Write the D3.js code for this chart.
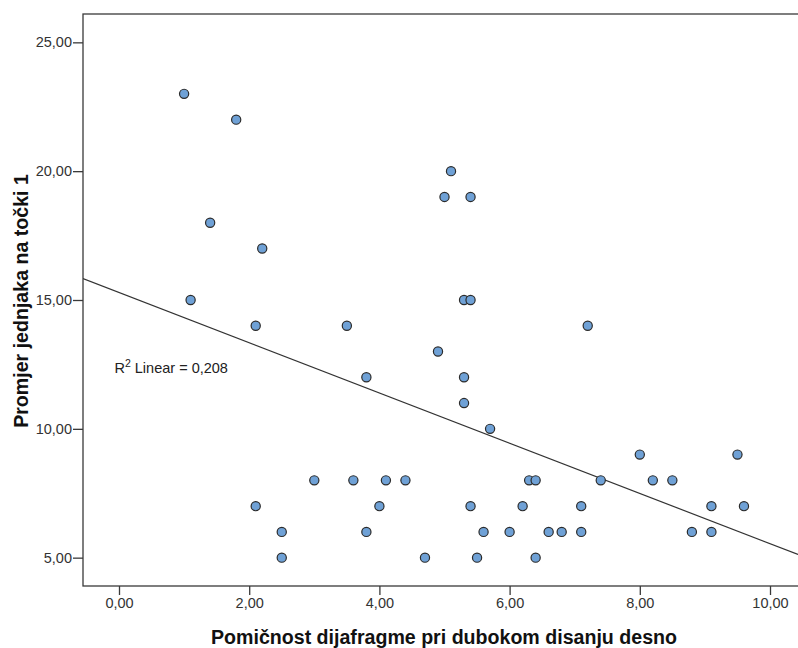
<!DOCTYPE html>
<html>
<head>
<meta charset="utf-8">
<script src="https://cdn.jsdelivr.net/npm/d3@7"></script>
<style>
  html, body { margin: 0; padding: 0; background: #fff; }
  svg { display: block; }
</style>
</head>
<body>
<svg id="chart" width="798" height="648"></svg>
<script>
// ---- data ----
const xValues = [1.0, 1.8, 1.4, 2.2, 1.1, 2.1, 3.5, 3.8, 3.0, 3.6, 4.1, 4.4, 2.1, 4.0, 2.5, 3.8, 2.5,
                 7.2, 4.9, 5.3, 5.3, 5.7, 8.0, 9.5, 6.3, 6.4, 7.4, 8.2, 8.5, 5.4, 6.2, 7.1, 9.1, 9.6,
                 5.6, 6.0, 6.6, 6.8, 7.1, 8.8, 9.1, 4.7, 5.5, 6.4, 5.1, 5.0, 5.4, 5.3, 5.4];
const yValues = [23, 22, 18, 17, 15, 14, 14, 12, 8, 8, 8, 8, 7, 7, 6, 6, 5,
                 14, 13, 12, 11, 10, 9, 9, 8, 8, 8, 8, 8, 7, 7, 7, 7, 7,
                 6, 6, 6, 6, 6, 6, 6, 5, 5, 5, 20, 19, 19, 15, 15];
const xTicks = [0, 2, 4, 6, 8, 10];
const yTicks = [5, 10, 15, 20, 25];
const xDomain = [-0.553, 10.43];
const yDomain = [3.9, 26.1];
const xTitle = "Pomičnost dijafragme pri dubokom disanju desno";
const yTitle = "Promjer jednjaka na točki 1";
const r2Label = ["R", "2", " Linear = 0,208"];

// ---- layout ----
const svg = d3.select("#chart");
const pLeft = 83, pTop = 14, pBottom = 586, pRight = 798;
const x = d3.scaleLinear().domain(xDomain).range([pLeft, pRight]);
const y = d3.scaleLinear().domain(yDomain).range([pBottom, pTop]);
const fmt = v => d3.format(".2f")(v).replace(".", ",");
const tickFont = "'Liberation Sans', Arial, sans-serif";

// clip
svg.append("defs").append("clipPath").attr("id", "plotclip")
  .append("rect").attr("x", pLeft).attr("y", pTop).attr("width", pRight - pLeft + 10).attr("height", pBottom - pTop);

// frame (top + left + bottom; right side is beyond the window)
svg.append("rect")
  .attr("x", pLeft).attr("y", pTop)
  .attr("width", pRight - pLeft + 20).attr("height", pBottom - pTop)
  .attr("fill", "none").attr("stroke", "#3a3a3a").attr("stroke-width", 1.3);

// axes
const xAxis = d3.axisBottom(x).tickValues(xTicks).tickFormat(fmt).tickSize(9).tickPadding(3);
const yAxis = d3.axisLeft(y).tickValues(yTicks).tickFormat(fmt).tickSize(10).tickPadding(1);

const gx = svg.append("g").attr("transform", `translate(0,${pBottom})`).call(xAxis);
const gy = svg.append("g").attr("transform", `translate(${pLeft},0)`).call(yAxis);
[gx, gy].forEach(g => {
  g.select(".domain").remove();
  g.selectAll(".tick line").attr("stroke", "#3a3a3a").attr("stroke-width", 1.3);
  g.selectAll(".tick text").attr("fill", "#333").style("font-family", tickFont).style("font-size", "14.5px");
});

// regression line (ordinary least squares on the data)
const n = xValues.length;
const mx = d3.mean(xValues), my = d3.mean(yValues);
let sxy = 0, sxx = 0;
for (let i = 0; i < n; i++) { sxy += (xValues[i] - mx) * (yValues[i] - my); sxx += (xValues[i] - mx) ** 2; }
const slope = sxy / sxx, intercept = my - slope * mx;
svg.append("line")
  .attr("clip-path", "url(#plotclip)")
  .attr("x1", x(xDomain[0])).attr("y1", y(intercept + slope * xDomain[0]))
  .attr("x2", x(xDomain[1])).attr("y2", y(intercept + slope * xDomain[1]))
  .attr("stroke", "#333").attr("stroke-width", 1.2);

// points
const pts = d3.range(n).map(i => ({ x: xValues[i], y: yValues[i] }));
svg.append("g").attr("clip-path", "url(#plotclip)")
  .selectAll("circle").data(pts).join("circle")
  .attr("cx", d => x(d.x)).attr("cy", d => y(d.y)).attr("r", 4.6)
  .attr("fill", "#6fa1d6").attr("stroke", "#2b2b2b").attr("stroke-width", 1.2);

// R² label
const rl = svg.append("text")
  .attr("x", x(-0.07)).attr("y", y(12.15))
  .attr("fill", "#222").style("font-family", tickFont).style("font-size", "14.5px");
rl.append("tspan").text(r2Label[0]);
rl.append("tspan").attr("dy", -6).style("font-size", "10.5px").text(r2Label[1]);
rl.append("tspan").attr("dy", 6).text(r2Label[2]);

// axis titles
svg.append("text")
  .attr("x", 444).attr("y", 644)
  .attr("text-anchor", "middle")
  .attr("fill", "#111")
  .style("font-family", "'Liberation Sans', Arial, sans-serif")
  .style("font-weight", "bold").style("font-size", "19.6px")
  .text(xTitle);

svg.append("text")
  .attr("transform", `translate(28,301) rotate(-90)`)
  .attr("text-anchor", "middle")
  .attr("fill", "#111")
  .style("font-family", "'Liberation Sans', Arial, sans-serif")
  .style("font-weight", "bold").style("font-size", "19.6px")
  .text(yTitle);
</script>
</body>
</html>
